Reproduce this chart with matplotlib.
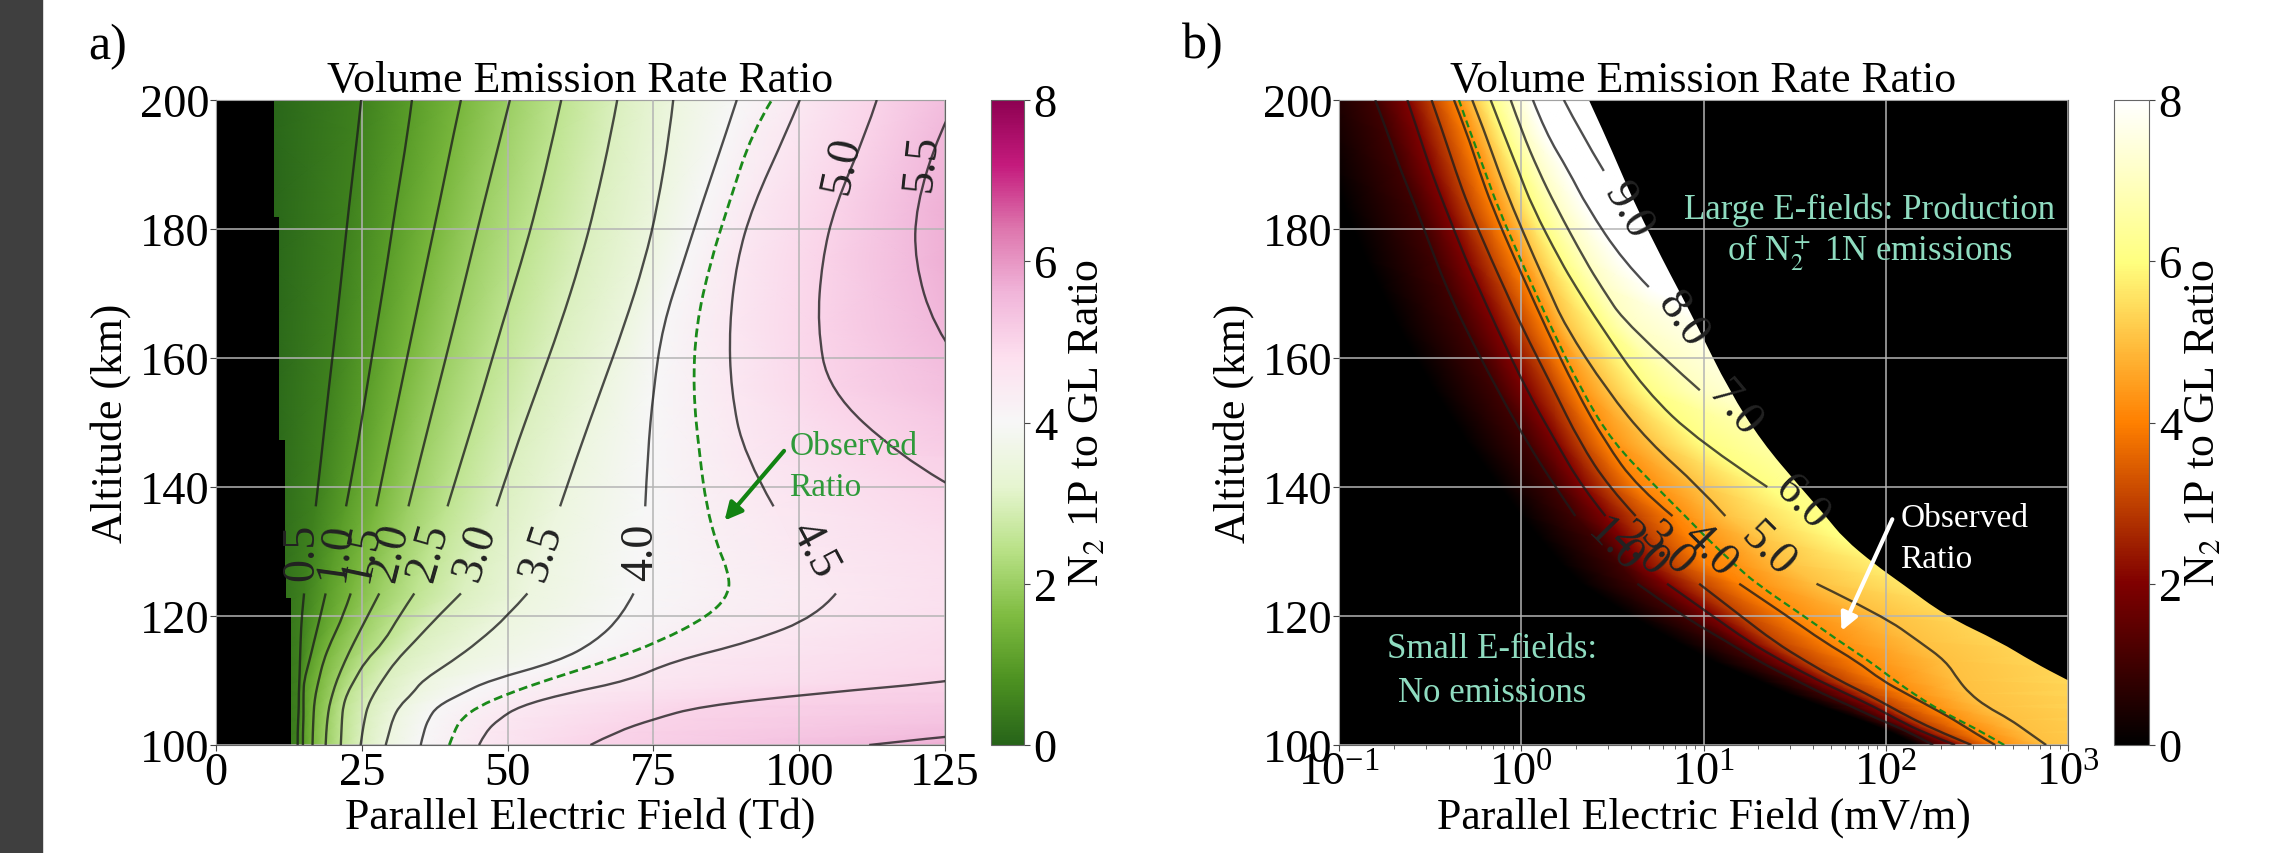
import numpy as np
import matplotlib
matplotlib.use('Agg')
import matplotlib.pyplot as plt
from matplotlib.cm import ScalarMappable
from matplotlib.colors import Normalize
from matplotlib.patches import Rectangle, PathPatch
from matplotlib.path import Path

plt.rcParams['font.family'] = 'Liberation Serif'
plt.rcParams['mathtext.fontset'] = 'stix'

FIG_W = 2272
FIG_H = 854
TEXT_BIG = 31.6
TICK_SIZE = 33.5
LABEL_SIZE = 33
NOTE_SIZE = 25
OBS_SIZE = 24

##########################
###  PANEL A ISOLINES  ###
##########################
# x position (Td) of every ratio level at each altitude; > 125 means off the panel
ALT_A = [100, 102, 104, 106, 108, 110, 113, 116, 120, 123.5, 127, 131, 137, 145, 155, 165, 175, 183.5, 195, 200]
A_00 = [8, 8, 8, 8, 8, 8, 8, 8, 8, 8, 8, 8, 8, 8, 8, 8, 8, 8, 8, 8]
A_05 = [14.0, 14.0, 14.1, 14.2, 14.2, 14.3, 14.4, 14.5, 14.7, 15.1, 15.6, 16.2, 17.1, 18.1, 19.3, 20.6, 21.8, 22.8, 24.3, 24.9]
A_10 = [14.9, 14.9, 15.0, 15.0, 15.0, 15.1, 16.0, 16.8, 17.9, 18.8, 19.6, 20.7, 22.3, 24.0, 25.8, 27.6, 29.4, 30.8, 32.9, 33.6]
A_15 = [16.55, 16.6, 16.7, 16.8, 17.1, 17.6, 18.4, 19.7, 21.8, 23.1, 24.3, 25.6, 27.5, 29.3, 31.6, 33.9, 36.2, 38.2, 40.8, 42.0]
A_20 = [18.8, 18.9, 19.1, 19.4, 20.0, 20.7, 22.1, 23.7, 26.0, 28.0, 29.4, 31.0, 33.0, 35.2, 38.0, 40.8, 43.5, 45.8, 49.0, 50.4]
A_25 = [21.4, 21.5, 21.6, 21.8, 22.5, 23.7, 25.6, 28.8, 31.4, 34.0, 35.4, 37.0, 39.7, 42.4, 45.8, 49.0, 52.4, 55.0, 58.0, 59.2]
A_30 = [24.8, 25.1, 25.5, 26.0, 27.1, 28.5, 30.8, 34.0, 38.1, 42.0, 43.6, 45.5, 48.1, 51.0, 55.0, 59.0, 62.5, 65.0, 67.8, 68.8]
A_35 = [29.1, 29.7, 30.3, 31.4, 33.7, 35.4, 40.5, 45.0, 50.0, 53.4, 54.6, 56.2, 59.0, 62.0, 66.0, 70.0, 73.5, 75.7, 77.8, 78.4]
A_40 = [35.1, 35.6, 36.4, 37.9, 42.2, 46.8, 58.8, 65.0, 69.6, 71.6, 72.0, 72.5, 73.6, 74.0, 75.0, 76.6, 80.2, 83.2, 87.5, 89.3]
A_OBS = [40.0, 40.8, 42.0, 45.0, 50.2, 56.5, 67.0, 76.0, 84.5, 88.1, 87.8, 85.9, 84.1, 82.9, 81.8, 82.3, 84.8, 87.8, 91.9, 95.3]
A_45 = [45.1, 46.2, 48.5, 52.0, 60.0, 70.8, 78.4, 91.7, 103.1, 106.3, 103.0, 99.0, 95.6, 90.5, 88.3, 88.0, 89.3, 92.0, 97.8, 100.1]
A_50 = [64.2, 68.5, 75.0, 83.0, 103.0, 128.0, 145.0, 147.0, 158.0, 153.0, 158.0, 150.0, 132.0, 117.0, 105.0, 103.1, 103.9, 106.1, 111.5, 113.3]
A_55 = [112.0, 132.0, 158.0, 188.0, 250.0, 300.0, 300.0, 300.0, 300.0, 300.0, 300.0, 300.0, 300.0, 157.0, 131.0, 123.0, 119.8, 120.0, 124.0, 127.0]
A_60 = [150.0, 170.0, 200.0, 230.0, 300.0, 400.0, 400.0, 400.0, 400.0, 400.0, 400.0, 400.0, 400.0, 190.0, 160.0, 145.0, 140.0, 142.0, 150.0, 155.0]
LEVELS_A = [0, 0.5, 1, 1.5, 2, 2.5, 3, 3.5, 4, 4.25, 4.5, 5, 5.5, 6]

# black "no data" staircase on the left of panel a
MASK_ALT_A = [100, 122.8, 126, 147.3, 181.9, 200]
MASK_X_A = [12.9, 12.0, 11.9, 10.8, 9.9, 9.9]

LABELS_A = ['0.5', '1.0', '1.5', '2.0', '2.5', '3.0', '3.5', '4.0', '4.5', '5.0', '5.5']
LABEL_X_A = [14.8, 20.5, 25.1, 29.9, 36.5, 44.5, 55.9, 72.8, 102.5, 107.3, 121.0]
LABEL_Y_A = [130, 130, 130, 130, 130, 130, 130, 130, 130.4, 189.9, 190.3]
LABEL_ROT_A = [90, 82, 78, 76, 74, 72, 72, 90, -62, 78, 84]

##########################
###  PANEL B ISOLINES  ###
##########################
# log10 of the field (mV/m) for each ratio level at each altitude
ALT_B = [100, 102, 104, 106, 108, 110, 113, 116, 120, 125, 128, 132, 135.5, 140, 147, 155, 165, 171, 175, 183.5, 189, 195, 200]
B_0 = [2.17, 2.03, 1.85, 1.65, 1.46, 1.3, 1.05, 0.85, 0.6, 0.33, 0.22, 0.1, 0.0, -0.12, -0.3, -0.48, -0.68, -0.78, -0.85, -0.97, -1.05, -1.13, -1.2]
B_1 = [2.26, 2.13, 1.96, 1.81, 1.65, 1.51, 1.30, 1.13, 0.884, 0.637, 0.54, 0.42, 0.297, 0.187, 0.03, -0.13, -0.314, -0.41, -0.467, -0.58, -0.66, -0.735, -0.801]
B_2 = [2.38, 2.20, 2.06, 1.93, 1.78, 1.63, 1.43, 1.25, 1.05, 0.80, 0.66, 0.56, 0.462, 0.334, 0.19, 0.03, -0.14, -0.235, -0.30, -0.42, -0.495, -0.565, -0.625]
B_3 = [2.47, 2.30, 2.15, 2.02, 1.89, 1.745, 1.56, 1.39, 1.205, 0.976, 0.83, 0.72, 0.628, 0.48, 0.32, 0.18, 0.0, -0.095, -0.16, -0.29, -0.36, -0.43, -0.492]
B_4 = [2.6, 2.48, 2.37, 2.24, 2.11, 1.98, 1.84, 1.66, 1.46, 1.196, 1.02, 0.92, 0.83, 0.637, 0.46, 0.30, 0.13, 0.035, -0.03, -0.16, -0.23, -0.30, -0.369]
B_OBS = [2.65, 2.53, 2.39, 2.26, 2.15, 2.05, 1.91, 1.75, 1.55, 1.29, 1.17, 1.02, 0.90, 0.74, 0.50, 0.33, 0.16, 0.065, 0.0, -0.13, -0.20, -0.28, -0.342]
B_5 = [2.88, 2.78, 2.68, 2.55, 2.46, 2.40, 2.33, 2.185, 1.985, 1.62, 1.45, 1.30, 1.12, 0.976, 0.70, 0.47, 0.24, 0.145, 0.08, -0.05, -0.125, -0.20, -0.269]
B_6 = [4.5, 4.5, 4.5, 4.4, 4.3, 4.2, 3.9, 3.6, 3.0, 2.4, 2.1, 1.75, 1.58, 1.35, 0.976, 0.68, 0.435, 0.30, 0.216, 0.06, -0.015, -0.10, -0.168]
B_7 = [5, 5, 5, 5, 5, 5, 5, 5, 5, 4, 3.7, 3.3, 3, 2, 1.6, 0.98, 0.58, 0.44, 0.353, 0.19, 0.095, 0.005, -0.058]
B_8 = [6, 6, 6, 6, 6, 6, 6, 6, 6, 6, 6, 6, 5, 3, 2.2, 1.6, 1.1, 0.70, 0.56, 0.36, 0.26, 0.133, 0.064]
B_9 = [7, 7, 7, 7, 7, 7, 7, 7, 7, 7, 7, 7, 7, 5, 4, 2.5, 2, 1.5, 1.3, 0.9, 0.453, 0.325, 0.234]
B_10 = [8, 8, 8, 8, 8, 8, 8, 8, 8, 8, 8, 8, 8, 8, 8, 8, 8, 8, 8, 8, 8, 8, 8]
LEVELS_B = [0, 1, 2, 3, 4, 4.25, 5, 6, 7, 8, 9, 10]
# beyond this field the ratio is not defined, drawn black
B_EDGE = [3.8, 3.6, 3.4, 3.3, 3.15, 3.0, 2.8, 2.626, 2.33, 2.09, 1.94, 1.77, 1.67, 1.53, 1.32, 1.14, 0.965, 0.855, 0.78, 0.63, 0.545, 0.453, 0.371]

LABELS_B = ['1.0', '2.0', '3.0', '4.0', '5.0', '6.0', '7.0', '8.0', '9.0']
LABEL_X_B = [0.508, 0.655, 0.80, 1.03, 1.35, 1.536, 1.166, 0.883, 0.585]
LABEL_Y_B = [131, 130.4, 130.4, 130.4, 130.4, 137.7, 152.2, 166.1, 182.9]
LABEL_ROT_B = [-45, -45, -45, -45, -45, -45, -50, -55, -60]

TICKS_CBAR = [0, 2, 4, 6, 8]
TICKS_ALT = [100, 120, 140, 160, 180, 200]
TICKS_TD = [0, 25, 50, 75, 100, 125]


def px_axes(fig, left, right, top, bottom):
    return fig.add_axes([left / FIG_W, 1 - bottom / FIG_H, (right - left) / FIG_W, (bottom - top) / FIG_H])


def smooth_path(x, y, log=False):
    # quadratic curve through the read points, the read points are the control points
    verts = [(x[0], y[0])]
    codes = [Path.MOVETO]
    for i in range(1, len(x) - 1):
        if i == len(x) - 2:
            mid = (x[i + 1], y[i + 1])
        elif log:
            mid = (np.sqrt(x[i] * x[i + 1]), (y[i] + y[i + 1]) / 2)
        else:
            mid = ((x[i] + x[i + 1]) / 2, (y[i] + y[i + 1]) / 2)
        verts += [(x[i], y[i]), mid]
        codes += [Path.CURVE3, Path.CURVE3]
    if len(x) == 2:
        verts.append((x[1], y[1]))
        codes.append(Path.LINETO)
    return verts, codes


def draw_isoline(ax, x, alt, gap=None, log=False, **kw):
    # leave the hole where the inline label sits
    x = np.array(x, dtype=float)
    alt = np.array(alt, dtype=float)
    keep = np.ones(len(x), dtype=bool)
    if gap is not None:
        keep = ~((alt > gap[0]) & (alt < gap[1]))
    idx = np.where(keep)[0]
    for seg in np.split(idx, np.where(np.diff(idx) > 1)[0] + 1):
        if len(seg) < 2:
            continue
        verts, codes = smooth_path(x[seg], alt[seg], log)
        ax.add_patch(PathPatch(Path(verts, codes), fill=False, zorder=3, capstyle='butt', **kw))


def mesh(ax, columns, levels, alt, cmap):
    X = np.array(columns, dtype=float).T
    Y = np.repeat(np.array(alt, dtype=float)[:, None], X.shape[1], axis=1)
    C = np.repeat(np.array(levels, dtype=float)[None, :], X.shape[0], axis=0)
    ax.pcolormesh(X, Y, C, shading='gouraud', cmap=cmap, vmin=0, vmax=8, zorder=1)


def finish(ax, cax, cmap, xlabel, ylabelpad, cbarpad):
    ax.set_facecolor('black')
    ax.set_ylim(100, 200)
    ax.set_yticks(TICKS_ALT)
    ax.set_axisbelow(False)
    ax.grid(True, color='#b4b4b4', lw=1.1)
    ax.tick_params(labelsize=TICK_SIZE, pad=1, length=4, color='#444444')
    ax.tick_params(which='minor', length=3, color='#444444')
    ax.set_title('Volume Emission Rate Ratio', fontsize=TEXT_BIG, pad=6)
    ax.set_xlabel(xlabel, fontsize=TEXT_BIG, labelpad=1)
    ax.set_ylabel('Altitude (km)', fontsize=TEXT_BIG, labelpad=ylabelpad)
    for s in ax.spines.values():
        s.set_color('#666666')
        s.set_linewidth(0.8)
    cb = plt.colorbar(ScalarMappable(Normalize(0, 8), cmap), cax=cax, ticks=TICKS_CBAR)
    cb.outline.set_edgecolor('#666666')
    cb.ax.tick_params(labelsize=TICK_SIZE, pad=3, length=4, color='#444444')
    cb.set_label(r'N$_2$ 1P to GL Ratio', fontsize=TEXT_BIG, labelpad=cbarpad)


fig = plt.figure(figsize=(FIG_W / 100, FIG_H / 100), dpi=100)
fig.patches.append(Rectangle((0, 0), 42 / FIG_W, 1, transform=fig.transFigure, color='#3f3f3f'))

##########################
###      PANEL A       ###
##########################
ax = px_axes(fig, 216, 945, 101, 746)
cax = px_axes(fig, 991, 1024, 101, 746)

cols_a = [A_00, A_05, A_10, A_15, A_20, A_25, A_30, A_35, A_40, A_OBS, A_45, A_50, A_55, A_60]
mesh(ax, cols_a, LEVELS_A, ALT_A, 'PiYG_r')
ax.fill_betweenx(MASK_ALT_A, 0, MASK_X_A, step='post', color='black', lw=0, zorder=2)

line_style = dict(edgecolor='#1c1c1c', lw=1.7, alpha=0.78)
for col in [A_05, A_10, A_15, A_20, A_25, A_30, A_35, A_40, A_45]:
    draw_isoline(ax, col, ALT_A, gap=(123.5, 137), **line_style)
draw_isoline(ax, A_50, ALT_A, gap=(183.5, 195), **line_style)
draw_isoline(ax, A_55, ALT_A, gap=(183.5, 195), **line_style)
draw_isoline(ax, A_OBS, ALT_A, edgecolor='#1a8a1a', lw=2, linestyle=(0, (3.2, 1.6)))

for txt, xx, yy, rot in zip(LABELS_A, LABEL_X_A, LABEL_Y_A, LABEL_ROT_A):
    ax.text(xx, yy, txt, fontsize=LABEL_SIZE, rotation=rot, ha='center', va='center',
            rotation_mode='anchor', color='#222222', zorder=4, clip_on=True)

ax.set_xlim(0, 125)
ax.set_xticks(TICKS_TD)
ax.text(98.3, 146.4, 'Observed', fontsize=OBS_SIZE, color='#2f9a3a', va='center', zorder=5)
ax.text(98.3, 140.0, 'Ratio', fontsize=OBS_SIZE, color='#2f9a3a', va='center', zorder=5)
ax.annotate('', xy=(87.2, 134.8), xytext=(97.4, 145.6), zorder=5,
            arrowprops=dict(arrowstyle='-|>', color='#128312', lw=3, mutation_scale=26, shrinkA=0, shrinkB=0))
finish(ax, cax, 'PiYG_r', 'Parallel Electric Field (Td)', 6, 7)
fig.text(88 / FIG_W, 1 - 47 / FIG_H, 'a)', fontsize=36, ha='left', va='center')

##########################
###      PANEL B       ###
##########################
ax = px_axes(fig, 1339, 2068, 101, 746)
cax = px_axes(fig, 2114, 2149, 101, 746)
ax.set_xscale('log')

cols_b = [10.0 ** np.array(c) for c in [B_0, B_1, B_2, B_3, B_4, B_OBS, B_5, B_6, B_7, B_8, B_9, B_10]]
mesh(ax, cols_b, LEVELS_B, ALT_B, 'afmhot')

# black out everything right of the edge curve
edge_v, edge_c = smooth_path(10.0 ** np.array(B_EDGE), ALT_B, log=True)
edge_v = edge_v + [(1e9, 200), (1e9, 100), edge_v[0]]
edge_c = edge_c + [Path.LINETO, Path.LINETO, Path.LINETO]
ax.add_patch(PathPatch(Path(edge_v, edge_c), facecolor='black', edgecolor='none', zorder=2))

for col in [B_1, B_2, B_3, B_4, B_5]:
    draw_isoline(ax, 10.0 ** np.array(col), ALT_B, gap=(125, 135.5), log=True, **line_style)
draw_isoline(ax, 10.0 ** np.array(B_6), ALT_B, gap=(0, 140), log=True, **line_style)
draw_isoline(ax, 10.0 ** np.array(B_7), ALT_B, gap=(0, 155), log=True, **line_style)
draw_isoline(ax, 10.0 ** np.array(B_8), ALT_B, gap=(0, 171), log=True, **line_style)
draw_isoline(ax, 10.0 ** np.array(B_9), ALT_B, gap=(0, 189), log=True, **line_style)
draw_isoline(ax, 10.0 ** np.array(B_OBS), ALT_B, log=True, edgecolor='#1a8a1a', lw=1.6, linestyle=(0, (3.2, 1.8)))

for txt, xx, yy, rot in zip(LABELS_B, LABEL_X_B, LABEL_Y_B, LABEL_ROT_B):
    ax.text(10.0 ** xx, yy, txt, fontsize=LABEL_SIZE, rotation=rot, ha='center', va='center',
            rotation_mode='anchor', color='#222222', zorder=4, clip_on=True)

ax.set_xlim(0.1, 1000)
note_col = '#8fdcc0'
ax.text(10.0 ** 1.913, 183.1, 'Large E-fields: Production', fontsize=NOTE_SIZE, color=note_col,
        ha='center', va='center', zorder=5)
ax.text(10.0 ** 1.913, 176.4, r'of N$_2^+$ 1N emissions', fontsize=NOTE_SIZE, color=note_col,
        ha='center', va='center', zorder=5)
ax.text(10.0 ** -0.16, 114.9, 'Small E-fields:', fontsize=NOTE_SIZE, color=note_col,
        ha='center', va='center', zorder=5)
ax.text(10.0 ** -0.16, 108.2, 'No emissions', fontsize=NOTE_SIZE, color=note_col,
        ha='center', va='center', zorder=5)
ax.text(10.0 ** 2.08, 135.3, 'Observed', fontsize=OBS_SIZE, color='white', va='center', zorder=5)
ax.text(10.0 ** 2.08, 128.9, 'Ratio', fontsize=OBS_SIZE, color='white', va='center', zorder=5)
ax.annotate('', xy=(10.0 ** 1.757, 117.7), xytext=(10.0 ** 2.036, 135), zorder=5,
            arrowprops=dict(arrowstyle='-|>', color='white', lw=3, mutation_scale=26, shrinkA=0, shrinkB=0))
finish(ax, cax, 'afmhot', 'Parallel Electric Field (mV/m)', 6, 1)
fig.text(1182 / FIG_W, 1 - 46 / FIG_H, 'b)', fontsize=36, ha='left', va='center')

fig.savefig('out.png', dpi=100)
